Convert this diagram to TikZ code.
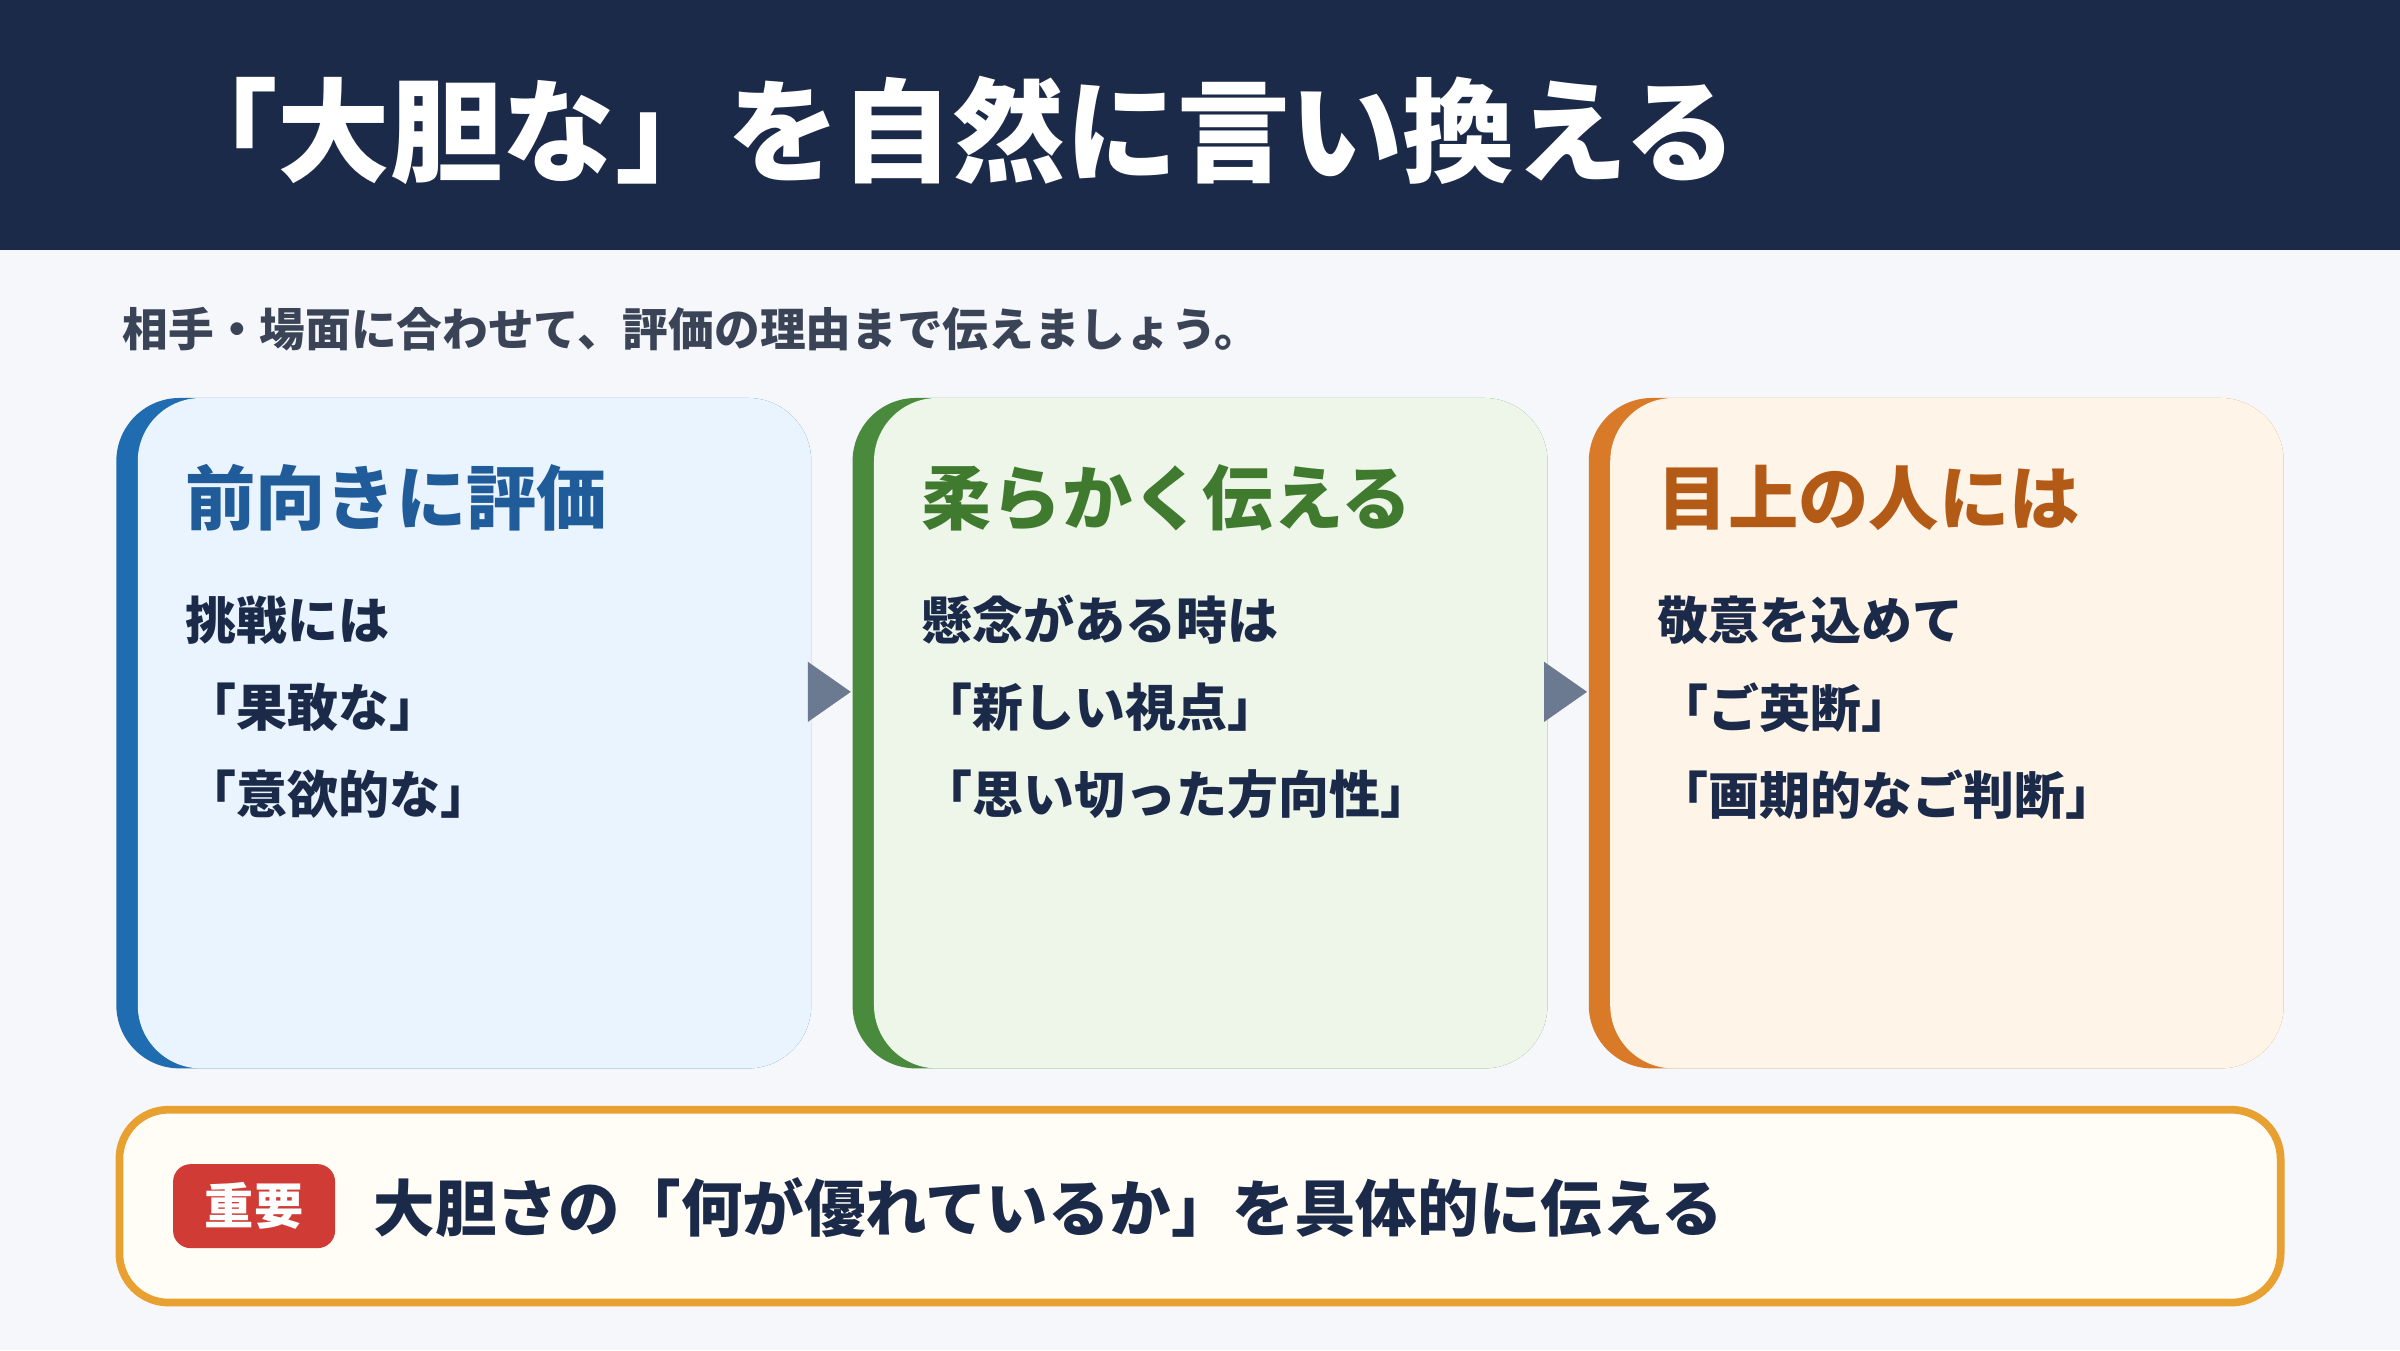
\documentclass[tikz,border=0pt]{standalone}
\usepackage{fontspec}
\setmainfont{Noto Sans CJK JP}
\usetikzlibrary{positioning,shapes.geometric}
\definecolor{navy}{HTML}{1C2A4A}
\definecolor{bg}{HTML}{F5F7FB}
\definecolor{subtx}{HTML}{3A4456}
\definecolor{bluebar}{HTML}{1F6DB0}
\definecolor{bluefill}{HTML}{EAF4FE}
\definecolor{bluetx}{HTML}{1F5C99}
\definecolor{greenbar}{HTML}{4A8A3C}
\definecolor{greenfill}{HTML}{EEF6EA}
\definecolor{greentx}{HTML}{3F7A2E}
\definecolor{orangebar}{HTML}{D87A28}
\definecolor{orangefill}{HTML}{FEF4E8}
\definecolor{orangetx}{HTML}{B35A17}
\definecolor{arrowgray}{HTML}{6B7A90}
\definecolor{notebd}{HTML}{E8A030}
\definecolor{notefill}{HTML}{FFFDF5}
\definecolor{badge}{HTML}{D13B36}
\tikzset{
  cardtitle/.style={anchor=west, font=\fontsize{20}{24}\selectfont\bfseries},
  cardline/.style={anchor=west, text=navy, font=\fontsize{14.5}{18}\selectfont\bfseries},
  steparrow/.style={isosceles triangle, isosceles triangle apex angle=70, fill=arrowgray,
    minimum height=0.43cm, minimum width=0.5cm, inner sep=0pt}
}
\begin{document}
\begin{tikzpicture}[x=0.015306cm, y=-0.015306cm]

  \newcommand\Card[5]{% x, bar, fill, name
    \fill[#2, rounded corners=18] (#1,260) rectangle (#1+454,698);
    \fill[#3, rounded corners=18] (#1+14,260) rectangle (#1+454,698);
    \coordinate (#4) at (#1,479);
    \coordinate (#5) at (#1+454,479);
  }

  % background and header
  \fill[bg] (0,0) rectangle (1568,882);
  \fill[navy] (0,0) rectangle (1568,163);
  \node[anchor=west, text=white, font=\fontsize{32}{38}\selectfont\bfseries]
    (title) at (100,85) {「大胆な」を自然に言い換える};
  \node[anchor=west, text=subtx, font=\fontsize{13}{16}\selectfont\bfseries]
    (sub) at (72,215) {相手・場面に合わせて、評価の理由まで伝えましょう。};

  % cards
  \Card{76}{bluebar}{bluefill}{c1w}{c1e}
  \Card{557}{greenbar}{greenfill}{c2w}{c2e}
  \Card{1038}{orangebar}{orangefill}{c3w}{c3e}

  \node[cardtitle, text=bluetx] (t1) at (113,325) {前向きに評価};
  \node[cardline] (a1) at (113,405) {挑戦には};
  \node[cardline] (a2) at (113,462) {「果敢な」};
  \node[cardline] (a3) at (113,519) {「意欲的な」};

  \node[cardtitle, text=greentx] (t2) at (594,325) {柔らかく伝える};
  \node[cardline] (b1) at (594,405) {懸念がある時は};
  \node[cardline] (b2) at (594,462) {「新しい視点」};
  \node[cardline] (b3) at (594,519) {「思い切った方向性」};

  \node[cardtitle, text=orangetx] (t3) at (1075,325) {目上の人には};
  \node[cardline] (d1) at (1075,405) {敬意を込めて};
  \node[cardline] (d2) at (1075,462) {「ご英断」};
  \node[cardline] (d3) at (1075,519) {「画期的なご判断」};

  % arrows
  \node[steparrow] (s1) at (538,452) {};
  \node[steparrow] (s2) at (1019,452) {};

  % note
  \draw[notebd, line width=2.2pt, fill=notefill, rounded corners=14]
    (78,725) rectangle (1490,851);
  \node[fill=badge, rounded corners=5, text=white, minimum width=1.62cm,
    minimum height=0.84cm, font=\fontsize{14}{16}\selectfont\bfseries]
    (tag) at (166,788) {重要};
  \node[anchor=west, text=navy, font=\fontsize{17.5}{21}\selectfont\bfseries]
    (note) at (236,789) {大胆さの「何が優れているか」を具体的に伝える};

\end{tikzpicture}
\end{document}
